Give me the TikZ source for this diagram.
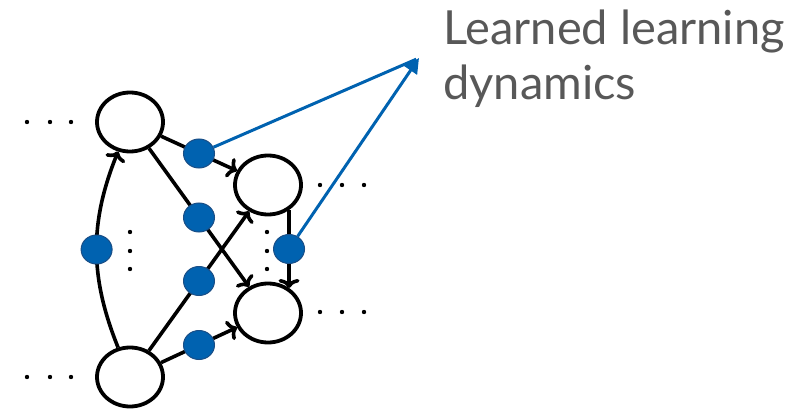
\documentclass[tikz,border=0pt]{standalone}
\usepackage{fontspec}
\setmainfont{Lato}
\usetikzlibrary{arrows.meta,shapes.geometric}

\definecolor{wblue}{HTML}{0062B0}
\definecolor{wedge}{HTML}{1A4E86}
\definecolor{txtgray}{HTML}{585858}

\begin{document}
\begin{tikzpicture}[
    x=1pt, y=-1pt,
    neuron/.style={
        ellipse, draw, line width=3.8pt, minimum width=66pt, minimum height=59pt,
        inner sep=0pt
    },
    wdot/.style={ellipse, fill=wblue, draw=wedge, line width=1pt,
        minimum width=31pt, minimum height=29pt, inner sep=0pt},
    link/.style={line width=3.6pt, -{Computer Modern Rightarrow[length=9pt,width=21pt]}},
    meta/.style={line width=3pt, draw=wblue},
    caption/.style={font=\fontsize{47}{55}\selectfont, text=txtgray, align=left, inner sep=0pt}
]
\useasboundingbox (0,0) rectangle (805,409);

% Nodes
\node[neuron] (A) at (130,122) {};
\node[neuron] (B) at (130,377) {};
\node[neuron] (C) at (268,185) {};
\node[neuron] (D) at (268,313) {};

% Ellipsis dots
\foreach \x in {27,50,71} {
    \fill (\x,122) circle (2.2pt);
    \fill (\x,377) circle (2.2pt);
}
\foreach \x in {320,342,364} {
    \fill (\x,185) circle (2.2pt);
    \fill (\x,312) circle (2.2pt);
}
\foreach \y in {232,251,269} {
    \fill (130,\y) circle (2.2pt);
    \fill (267,\y) circle (2.2pt);
}

% Arrows - connections with weights
\draw[link] (B) to[bend left=22] node[wdot] (w5) {} (A);
\draw[link] (A) -- node[wdot] (w1) {} (C);
\draw[link] (A) -- node[wdot] (w2) {} (D);
\draw[link] (B) -- node[wdot] (w3) {} (C);
\draw[link] (B) -- node[wdot] (w4) {} (D);
\draw[link] (C.-50) -- node[wdot] (w6) {} (D.50);

% Learned dynamics
\coordinate (tip) at (419,58);
\draw[meta, shorten >=3pt] (w1) -- (tip);
\draw[meta, -{Triangle[length=15pt,width=15pt]}] (w6) -- (tip);
\node[caption, anchor=north west] (lbl) at (443,10) {Learned learning\\dynamics};

\end{tikzpicture}
\end{document}
